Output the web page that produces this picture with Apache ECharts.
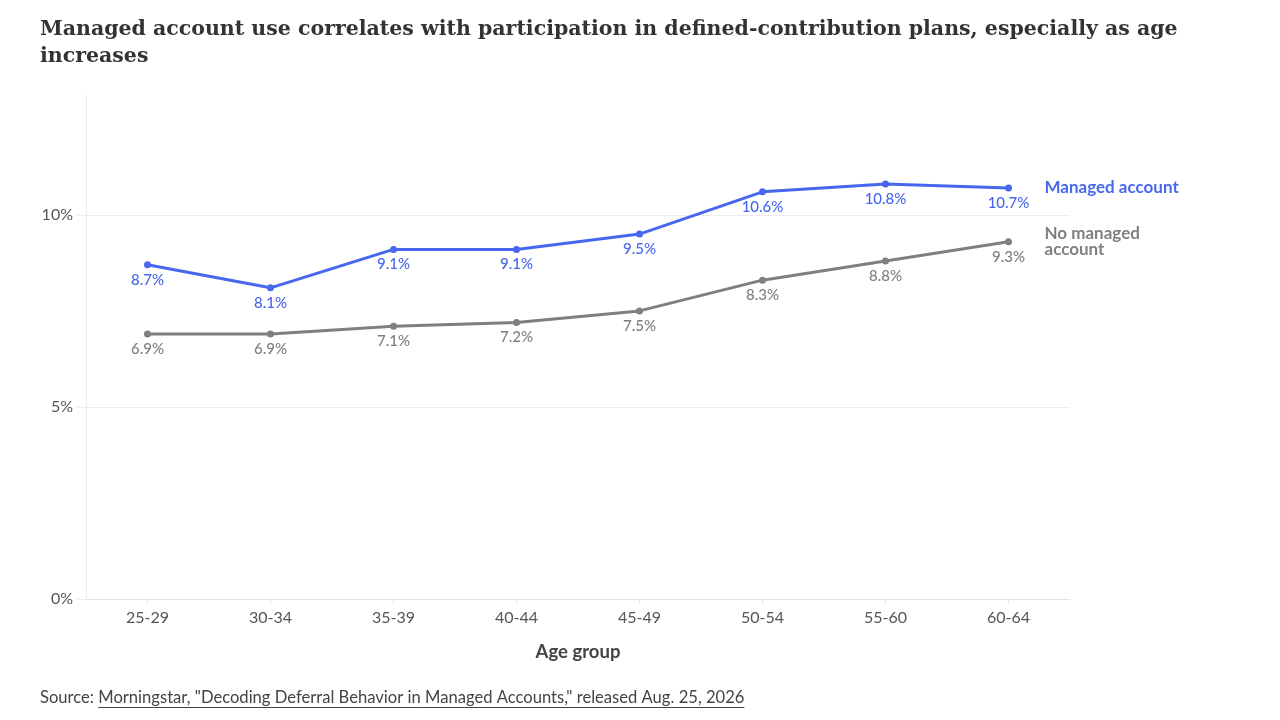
<!DOCTYPE html>
<html>
<head>
<meta charset="utf-8">
<script src="https://cdn.jsdelivr.net/npm/echarts@6/dist/echarts.min.js"></script>
<style>
html,body{margin:0;padding:0;background:#fff;}
#c{width:1280px;height:720px;}
</style>
</head>
<body>
<div id="c"></div>
<script>
const categories = ['25-29','30-34','35-39','40-44','45-49','50-54','55-60','60-64'];
const managed = [8.7, 8.1, 9.1, 9.1, 9.5, 10.6, 10.8, 10.7];
const noManaged = [6.9, 6.9, 7.1, 7.2, 7.5, 8.3, 8.8, 9.3];
const seriesNames = ['Managed account', 'No managed\naccount'];
const yTicks = [0, 5, 10];

const BLUE = '#4767ee';
const GRAY = '#7f7f7f';
const FONT = 'Lato';

const chart = echarts.init(document.getElementById('c'));

const sourcePrefix = 'Source: ';
const sourceLink = 'Morningstar, "Decoding Deferral Behavior in Managed Accounts," released Aug. 25, 2026';
const SRC_FONT = '16.6px Lato';
const cv = document.createElement('canvas').getContext('2d');
cv.font = SRC_FONT;
const prefixW = cv.measureText(sourcePrefix).width;
const linkW = cv.measureText(sourceLink).width;

function mkSeries(name, data, color) {
  return {
    name: name,
    type: 'line',
    data: data,
    symbol: 'circle',
    symbolSize: 7,
    lineStyle: {color: color, width: 3},
    itemStyle: {color: color},
    label: {
      show: true, position: 'bottom', distance: 4,
      color: color, fontFamily: FONT, fontSize: 15, fontWeight: 500,
      formatter: p => p.value.toFixed(1) + '%'
    },
    endLabel: {
      show: true, distance: 36,
      formatter: () => name,
      color: color, fontFamily: FONT, fontSize: 17, fontWeight: 'bold',
      lineHeight: 16, align: 'left', verticalAlign: 'middle'
    },
    emphasis: {disabled: true},
    animation: false
  };
}

chart.setOption({
  animation: false,
  title: {
    text: 'Managed account use correlates with participation in defined-contribution plans, especially as age\nincreases',
    left: 35, top: 11,
    textStyle: {fontFamily: 'DejaVu Serif', fontSize: 20.5, fontWeight: 'bold', color: '#333', lineHeight: 27}
  },
  grid: {left: 86, right: 210, top: 95, bottom: 121, containLabel: false},
  xAxis: {
    type: 'category',
    data: categories,
    boundaryGap: true,
    name: 'Age group',
    nameLocation: 'middle',
    nameGap: 44,
    nameTextStyle: {fontFamily: FONT, fontSize: 18.5, fontWeight: 'bold', color: '#444'},
    axisLine: {show: true, lineStyle: {color: '#e4e4e4', width: 1}},
    axisTick: {show: true, alignWithLabel: true, length: 5, lineStyle: {color: '#e4e4e4'}},
    axisLabel: {fontFamily: FONT, fontSize: 16, color: '#555', margin: 11}
  },
  yAxis: {
    type: 'value',
    min: 0, max: 13.12, interval: 5,
    axisLine: {show: true, lineStyle: {color: '#ececec', width: 1}},
    axisTick: {show: true, length: 9, customValues: yTicks, lineStyle: {color: '#ececec'}},
    splitLine: {show: true, lineStyle: {color: ['#ececec','#ececec','#ececec','rgba(0,0,0,0)'], width: 1}},
    axisLabel: {
      fontFamily: FONT, fontSize: 16, color: '#555', margin: 13,
      padding: [0, 0, 4, 0],
      customValues: yTicks,
      formatter: v => yTicks.indexOf(v) >= 0 ? v + '%' : ''
    }
  },
  series: [
    mkSeries(seriesNames[0], managed, BLUE),
    mkSeries(seriesNames[1], noManaged, GRAY)
  ],
  graphic: [
    {type: 'text', left: 40, top: 689, style: {text: sourcePrefix, font: SRC_FONT, fill: '#444'}},
    {type: 'text', left: 40 + prefixW, top: 689, style: {text: sourceLink, font: SRC_FONT, fill: '#444'}},
    {type: 'line', shape: {x1: 40 + prefixW, y1: 707.5, x2: 40 + prefixW + linkW, y2: 707.5}, style: {stroke: '#444', lineWidth: 1}}
  ]
});
</script>
</body>
</html>
